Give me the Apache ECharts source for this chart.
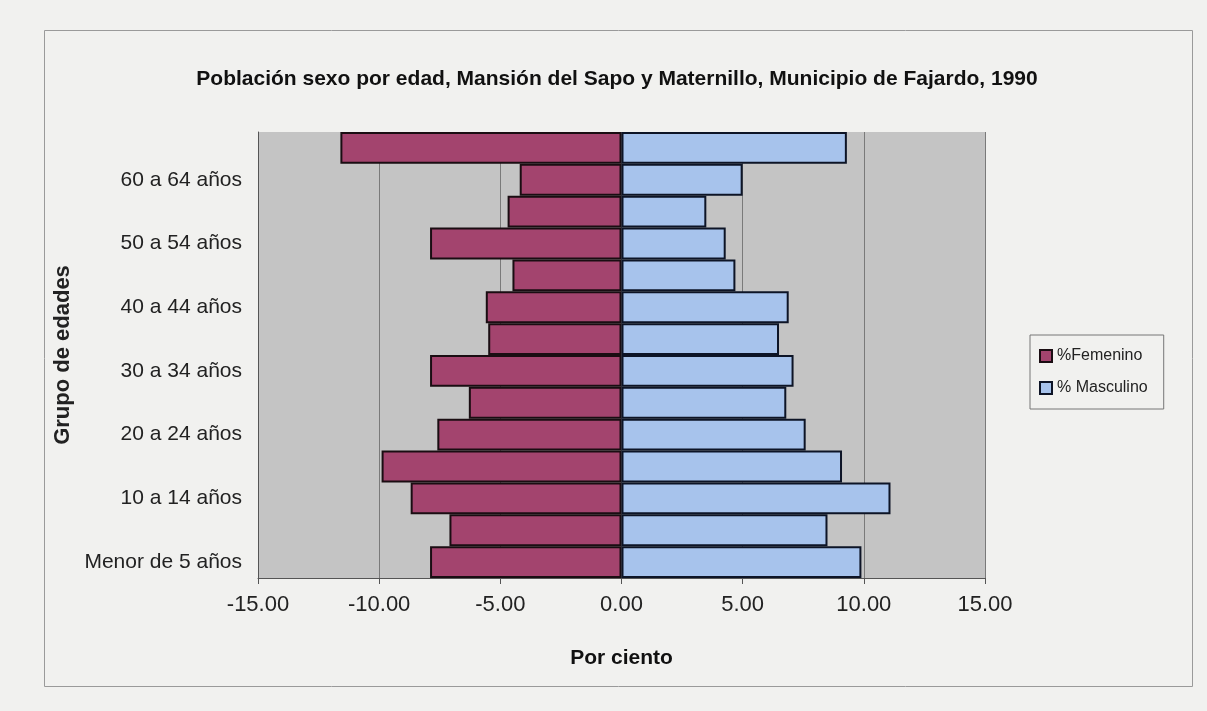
<!DOCTYPE html>
<html>
<head>
<meta charset="utf-8">
<script src="https://cdn.jsdelivr.net/npm/echarts@6/dist/echarts.min.js"></script>
<style>
  html, body { margin: 0; padding: 0; background: #f1f1ef; }
  #chart { width: 1207px; height: 711px; }
</style>
</head>
<body>
<div id="chart"></div>
<script>
// age groups, bottom to top (only every other one is labelled on the axis)
const categories = [
  'Menor de 5 años', '5 a 9 años', '10 a 14 años', '15 a 19 años',
  '20 a 24 años', '25 a 29 años', '30 a 34 años', '35 a 39 años',
  '40 a 44 años', '45 a 49 años', '50 a 54 años', '55 a 59 años',
  '60 a 64 años', '65 años o más'
]
// percentages
const femenino = [7.9, 7.1, 8.7, 9.9, 7.6, 6.3, 7.9, 5.5, 5.6, 4.5, 7.9, 4.7, 4.2, 11.6]
const masculino = [9.9, 8.5, 11.1, 9.1, 7.6, 6.8, 7.1, 6.5, 6.9, 4.7, 4.3, 3.5, 5.0, 9.3]
const xTicks = [-15, -10, -5, 0, 5, 10, 15]

const font = 'Liberation Sans, Arial, sans-serif'
const chart = echarts.init(document.getElementById('chart'))

chart.setOption({
  backgroundColor: '#f1f1ef',
  textStyle: { fontFamily: font },
  graphic: [{
    type: 'rect',
    left: 44,
    top: 30,
    shape: { width: 1148, height: 656 },
    style: { fill: 'transparent', stroke: '#9a9a9a', lineWidth: 1 },
    silent: true
  }],
  title: {
    text: 'Población sexo por edad, Mansión del Sapo y Maternillo, Municipio de Fajardo, 1990',
    left: 612,
    textAlign: 'center',
    top: 64,
    textStyle: { fontFamily: font, fontSize: 21, fontWeight: 'bold', color: '#111' }
  },
  legend: {
    orient: 'vertical',
    left: 1030,
    top: 335,
    padding: [13, 16, 13, 9],
    itemGap: 16,
    itemWidth: 12,
    itemHeight: 12,
    icon: 'rect',
    borderColor: '#777',
    borderWidth: 1,
    textStyle: { fontFamily: font, fontSize: 16, color: '#222' },
    data: ['%Femenino', '% Masculino']
  },
  grid: {
    left: 258,
    right: 222,
    top: 132,
    bottom: 133,
    show: true,
    backgroundColor: '#c4c4c4',
    borderWidth: 0
  },
  xAxis: {
    type: 'value',
    min: xTicks[0],
    max: xTicks[xTicks.length - 1],
    interval: 5,
    name: 'Por ciento',
    nameLocation: 'middle',
    nameGap: 70,
    nameTextStyle: { fontFamily: font, fontSize: 21, fontWeight: 'bold', color: '#111' },
    axisLine: { show: true, onZero: false, lineStyle: { color: '#555', width: 1 } },
    axisTick: { show: true, length: 6, lineStyle: { color: '#555' } },
    axisLabel: {
      fontFamily: font,
      fontSize: 22,
      color: '#222',
      margin: 16,
      formatter: v => v.toFixed(2)
    },
    splitLine: { show: true, lineStyle: { color: '#7a7a7a', width: 1 } }
  },
  yAxis: {
    type: 'category',
    data: categories,
    name: 'Grupo de edades',
    nameLocation: 'middle',
    nameGap: 180,
    nameRotate: 90,
    nameTextStyle: { fontFamily: font, fontSize: 22, fontWeight: 'bold', color: '#222' },
    axisLine: { show: true, onZero: false, lineStyle: { color: '#555', width: 1 } },
    axisTick: { show: false },
    axisLabel: {
      interval: 1,
      fontFamily: font,
      fontSize: 21,
      color: '#222',
      margin: 16
    },
    splitLine: { show: false }
  },
  series: [
    {
      name: '%Femenino',
      type: 'bar',
      stack: 'pop',
      barCategoryGap: 0,
      data: femenino.map(v => -v),
      itemStyle: { color: '#a3446e', borderColor: '#1a0d12', borderWidth: 2 }
    },
    {
      name: '% Masculino',
      type: 'bar',
      stack: 'pop',
      barCategoryGap: 0,
      data: masculino,
      itemStyle: { color: '#a7c3ec', borderColor: '#0d1426', borderWidth: 2 }
    }
  ]
})
</script>
</body>
</html>
